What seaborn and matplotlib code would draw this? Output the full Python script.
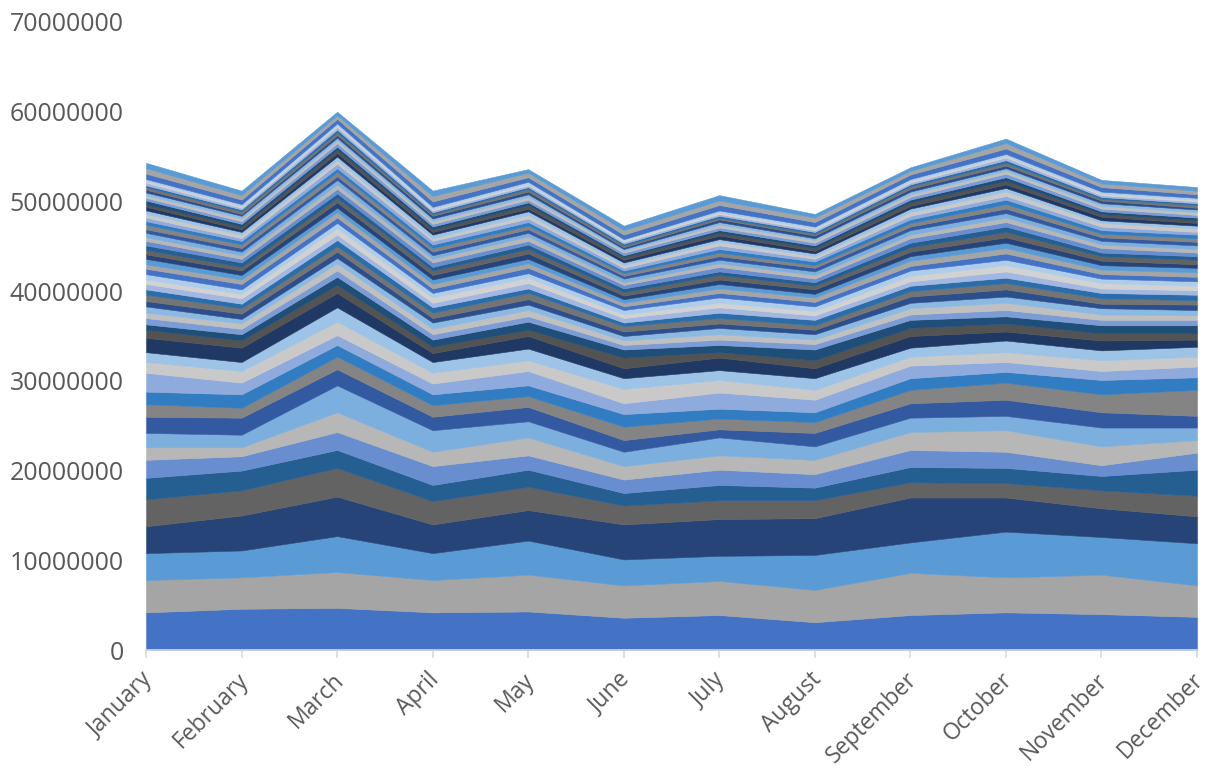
import colorsys

import matplotlib
matplotlib.use("Agg")
import matplotlib.pyplot as plt
import matplotlib.colors as mcolors
import matplotlib.transforms as mtransforms
import pandas as pd
import seaborn as sns

# ---------------------------------------------------------------- data
months = ["January", "February", "March", "April", "May", "June", "July",
          "August", "September", "October", "November", "December"]

y_ticks = [0, 10000000, 20000000, 30000000, 40000000, 50000000, 60000000, 70000000]

UNIT = 1_000_000  # values below are in millions

s01 = [4.2, 4.6, 4.7, 4.2, 4.3, 3.6, 3.9, 3.1, 3.9, 4.2, 4.0, 3.7]
s02 = [3.6, 3.5, 4.0, 3.6, 4.1, 3.6, 3.8, 3.6, 4.7, 3.9, 4.4, 3.5]
s03 = [3.0, 3.0, 4.0, 3.0, 3.8, 2.9, 2.8, 3.9, 3.4, 5.1, 4.2, 4.7]
s04 = [3.0, 3.9, 4.4, 3.2, 3.4, 3.9, 4.1, 4.1, 5.0, 3.8, 3.2, 3.0]
s05 = [3.0, 2.8, 3.2, 2.6, 2.6, 2.1, 2.1, 2.0, 1.7, 1.6, 2.0, 2.3]
s06 = [2.4, 2.2, 2.0, 1.8, 1.9, 1.4, 1.7, 1.4, 1.7, 1.7, 1.6, 2.9]
s07 = [2.0, 1.6, 2.0, 2.1, 1.6, 1.5, 1.7, 1.5, 1.9, 1.8, 1.2, 1.9]
s08 = [1.4, 1.0, 2.2, 1.6, 2.0, 1.5, 1.6, 1.6, 2.0, 2.4, 2.1, 1.4]
s09 = [1.6, 1.4, 3.0, 2.4, 1.8, 1.6, 2.0, 1.5, 1.6, 1.6, 2.1, 1.4]
s10 = [1.8, 1.9, 1.8, 1.5, 1.6, 1.3, 0.9, 1.5, 1.6, 1.8, 1.7, 1.3]
s11 = [1.4, 1.1, 1.4, 1.3, 1.2, 1.5, 1.2, 1.2, 1.5, 1.9, 2.0, 2.9]
s12 = [1.4, 1.5, 1.3, 1.2, 1.2, 1.4, 1.1, 1.1, 1.3, 1.2, 1.6, 1.4]
s13 = [2.1, 1.3, 1.1, 1.2, 1.6, 1.2, 1.8, 1.4, 1.4, 1.1, 1.0, 1.2]
s14 = [1.2, 1.3, 1.5, 1.2, 1.2, 1.6, 1.4, 1.1, 1.0, 1.1, 1.2, 1.1]
s15 = [1.1, 1.0, 1.6, 1.2, 1.3, 1.2, 1.1, 1.3, 1.0, 1.3, 1.1, 1.1]
s16 = [1.6, 1.6, 1.6, 1.0, 1.4, 1.1, 1.4, 1.1, 1.3, 1.0, 1.1, 0.8]
s17 = [0.9, 0.8, 0.9, 0.7, 0.7, 1.2, 0.6, 0.9, 0.9, 0.9, 0.8, 0.7]
s18 = [0.6, 0.7, 0.9, 0.8, 0.9, 0.9, 0.8, 1.2, 0.9, 0.8, 0.9, 0.9]
s19 = [0.7, 0.6, 0.7, 0.6, 0.6, 0.5, 0.6, 0.6, 0.6, 0.7, 0.6, 0.6]
s20 = [0.6, 0.6, 0.8, 0.6, 0.7, 0.5, 0.6, 0.5, 0.7, 0.8, 0.6, 0.5]
s21 = [0.7, 0.5, 0.6, 0.7, 0.6, 0.5, 0.7, 0.6, 0.6, 0.7, 0.7, 0.6]
s22 = [0.6, 0.6, 0.7, 0.5, 0.6, 0.5, 0.5, 0.5, 0.7, 0.8, 0.5, 0.6]
s23 = [0.7, 0.6, 0.6, 0.6, 0.7, 0.6, 0.6, 0.5, 0.6, 0.7, 0.6, 0.5]
s24 = [0.6, 0.5, 0.7, 0.6, 0.5, 0.4, 0.6, 0.6, 0.6, 0.6, 0.6, 0.6]
s25 = [0.6, 0.6, 0.6, 0.5, 0.6, 0.5, 0.6, 0.5, 0.5, 0.7, 0.5, 0.5]
s26 = [0.5, 0.5, 0.7, 0.6, 0.6, 0.4, 0.5, 0.5, 0.6, 0.7, 0.6, 0.5]
s27 = [0.6, 0.5, 0.6, 0.5, 0.5, 0.5, 0.6, 0.5, 0.6, 0.6, 0.5, 0.5]
s28 = [0.6, 0.6, 0.6, 0.5, 0.6, 0.4, 0.5, 0.5, 0.5, 0.7, 0.5, 0.5]
s29 = [0.5, 0.5, 0.6, 0.5, 0.5, 0.4, 0.5, 0.5, 0.6, 0.6, 0.5, 0.5]
s30 = [0.6, 0.5, 0.5, 0.5, 0.5, 0.4, 0.5, 0.4, 0.5, 0.6, 0.5, 0.5]
s31 = [0.5, 0.5, 0.6, 0.5, 0.6, 0.4, 0.5, 0.5, 0.5, 0.6, 0.5, 0.4]
s32 = [0.5, 0.4, 0.5, 0.5, 0.5, 0.4, 0.5, 0.4, 0.5, 0.6, 0.5, 0.5]
s33 = [0.5, 0.5, 0.5, 0.4, 0.5, 0.4, 0.4, 0.4, 0.5, 0.6, 0.4, 0.4]
s34 = [0.5, 0.4, 0.5, 0.5, 0.4, 0.4, 0.5, 0.4, 0.5, 0.5, 0.5, 0.4]
s35 = [0.4, 0.4, 0.5, 0.4, 0.5, 0.3, 0.4, 0.4, 0.4, 0.5, 0.4, 0.4]
s36 = [0.5, 0.4, 0.5, 0.4, 0.4, 0.4, 0.4, 0.4, 0.5, 0.5, 0.4, 0.4]
s37 = [0.4, 0.4, 0.4, 0.4, 0.4, 0.3, 0.4, 0.4, 0.4, 0.5, 0.4, 0.4]
s38 = [0.5, 0.4, 0.5, 0.4, 0.4, 0.3, 0.4, 0.3, 0.4, 0.5, 0.4, 0.4]
s39 = [0.4, 0.4, 0.4, 0.4, 0.4, 0.3, 0.4, 0.4, 0.4, 0.5, 0.4, 0.4]
s40 = [0.4, 0.3, 0.5, 0.4, 0.4, 0.3, 0.4, 0.3, 0.4, 0.4, 0.4, 0.3]
s41 = [0.4, 0.4, 0.4, 0.3, 0.4, 0.3, 0.4, 0.3, 0.4, 0.5, 0.4, 0.4]
s42 = [0.4, 0.3, 0.4, 0.4, 0.4, 0.3, 0.3, 0.3, 0.4, 0.4, 0.3, 0.3]
s43 = [0.4, 0.3, 0.4, 0.3, 0.3, 0.3, 0.4, 0.3, 0.3, 0.4, 0.4, 0.3]
s44 = [0.3, 0.3, 0.4, 0.3, 0.4, 0.3, 0.3, 0.3, 0.4, 0.4, 0.3, 0.3]
s45 = [0.4, 0.3, 0.3, 0.3, 0.3, 0.2, 0.3, 0.3, 0.3, 0.4, 0.3, 0.3]
s46 = [0.3, 0.3, 0.4, 0.3, 0.3, 0.3, 0.3, 0.3, 0.3, 0.4, 0.3, 0.3]
s47 = [0.3, 0.3, 0.3, 0.3, 0.3, 0.2, 0.3, 0.3, 0.3, 0.3, 0.3, 0.3]
s48 = [0.3, 0.3, 0.3, 0.3, 0.3, 0.2, 0.3, 0.2, 0.3, 0.3, 0.3, 0.3]
s49 = [0.3, 0.2, 0.3, 0.3, 0.3, 0.2, 0.3, 0.3, 0.3, 0.3, 0.3, 0.2]
s50 = [0.3, 0.3, 0.3, 0.2, 0.3, 0.2, 0.2, 0.2, 0.3, 0.3, 0.2, 0.3]
s51 = [0.2, 0.2, 0.3, 0.2, 0.2, 0.2, 0.2, 0.2, 0.2, 0.3, 0.2, 0.2]
s52 = [0.3, 0.2, 0.3, 0.2, 0.2, 0.2, 0.2, 0.2, 0.2, 0.3, 0.2, 0.2]
s53 = [0.2, 0.2, 0.2, 0.2, 0.2, 0.2, 0.2, 0.2, 0.2, 0.2, 0.2, 0.2]
s54 = [0.2, 0.2, 0.2, 0.2, 0.2, 0.1, 0.2, 0.2, 0.2, 0.2, 0.2, 0.2]
s55 = [0.6, 0.5, 0.5, 0.6, 0.5, 0.5, 0.6, 0.5, 0.5, 0.6, 0.5, 0.4]
s56 = [0.6, 0.5, 0.4, 0.6, 0.5, 0.5, 0.5, 0.5, 0.4, 0.6, 0.4, 0.4]
s57 = [0.6, 0.5, 0.4, 0.6, 0.4, 0.5, 0.6, 0.4, 0.4, 0.5, 0.4, 0.4]

series_values = [s01, s02, s03, s04, s05, s06, s07, s08, s09, s10,
                 s11, s12, s13, s14, s15, s16, s17, s18, s19, s20,
                 s21, s22, s23, s24, s25, s26, s27, s28, s29, s30,
                 s31, s32, s33, s34, s35, s36, s37, s38, s39, s40,
                 s41, s42, s43, s44, s45, s46, s47, s48, s49, s50,
                 s51, s52, s53, s54, s55, s56, s57]
series_names = [f"Series{i + 1}" for i in range(len(series_values))]

# ---------------------------------------------------------------- colours
# Office-style palette: three accent colours, each cycled through a set of
# luminance variations (lumMod, lumOff).
base_colors = ["#4472C4", "#A5A5A5", "#5B9BD5"]
variations = [(1.0, 0.0), (0.6, 0.0), (0.8, 0.2), (0.8, 0.0), (0.6, 0.4),
              (0.5, 0.0), (0.7, 0.3), (0.7, 0.0), (0.5, 0.5)]


def vary(hex_color, lum_mod, lum_off):
    r, g, b = mcolors.to_rgb(hex_color)
    h, l, s = colorsys.rgb_to_hls(r, g, b)
    l = min(1.0, l * lum_mod + lum_off)
    return colorsys.hls_to_rgb(h, l, s)


colors = []
for i in range(len(series_values)):
    group = (i // len(base_colors)) % len(variations)
    mod, off = variations[group]
    colors.append(vary(base_colors[i % len(base_colors)], mod, off))

# long-form table for seaborn
records = []
for name, vals in zip(series_names, series_values):
    for m, v in enumerate(vals):
        records.append({"month": m, "series": name, "value": v * UNIT})
df = pd.DataFrame(records)

# ---------------------------------------------------------------- plot
sns.set_theme(style="white")
plt.rcParams["font.family"] = ["Open Sans", "DejaVu Sans"]

fig = plt.figure(figsize=(12.07, 7.69), dpi=100)
ax = fig.add_axes([0.121, 0.1547, 0.8707, 0.8167])

# stacked area: first series sits at the bottom
sns.histplot(
    data=df, x="month", weights="value", hue="series",
    hue_order=series_names[::-1],
    palette=dict(zip(series_names, colors)),
    discrete=True, element="poly", multiple="stack", fill=True,
    alpha=1.0, linewidth=0.4, legend=False, ax=ax,
)
for coll in ax.collections:
    coll.set_edgecolor(coll.get_facecolor())

ax.set_xlim(0, len(months) - 1)
ax.set_ylim(0, 70000000)
ax.set_xlabel("")
ax.set_ylabel("")
ax.grid(False)

for side in ("left", "right", "top"):
    ax.spines[side].set_visible(False)
ax.spines["bottom"].set_color("#D9D9D9")
ax.spines["bottom"].set_linewidth(1.2)
ax.tick_params(axis="x", bottom=True, length=6, width=1.2, color="#D9D9D9", pad=8)
ax.tick_params(axis="y", left=False, pad=10)

ax.set_yticks(y_ticks)
ax.set_yticklabels([str(t) for t in y_ticks], fontsize=18, color="#595959")
ax.set_xticks(range(len(months)))
ax.set_xticklabels(months, rotation=45, ha="right", rotation_mode="anchor",
                   va="center", fontsize=16.5, color="#595959")

# nudge the slanted month labels down and slightly to the right
shift = mtransforms.ScaledTranslation(3 / 100, -7 / 100, fig.dpi_scale_trans)
for lab in ax.get_xticklabels():
    lab.set_transform(lab.get_transform() + shift)

fig.savefig("out.png", dpi=100)
